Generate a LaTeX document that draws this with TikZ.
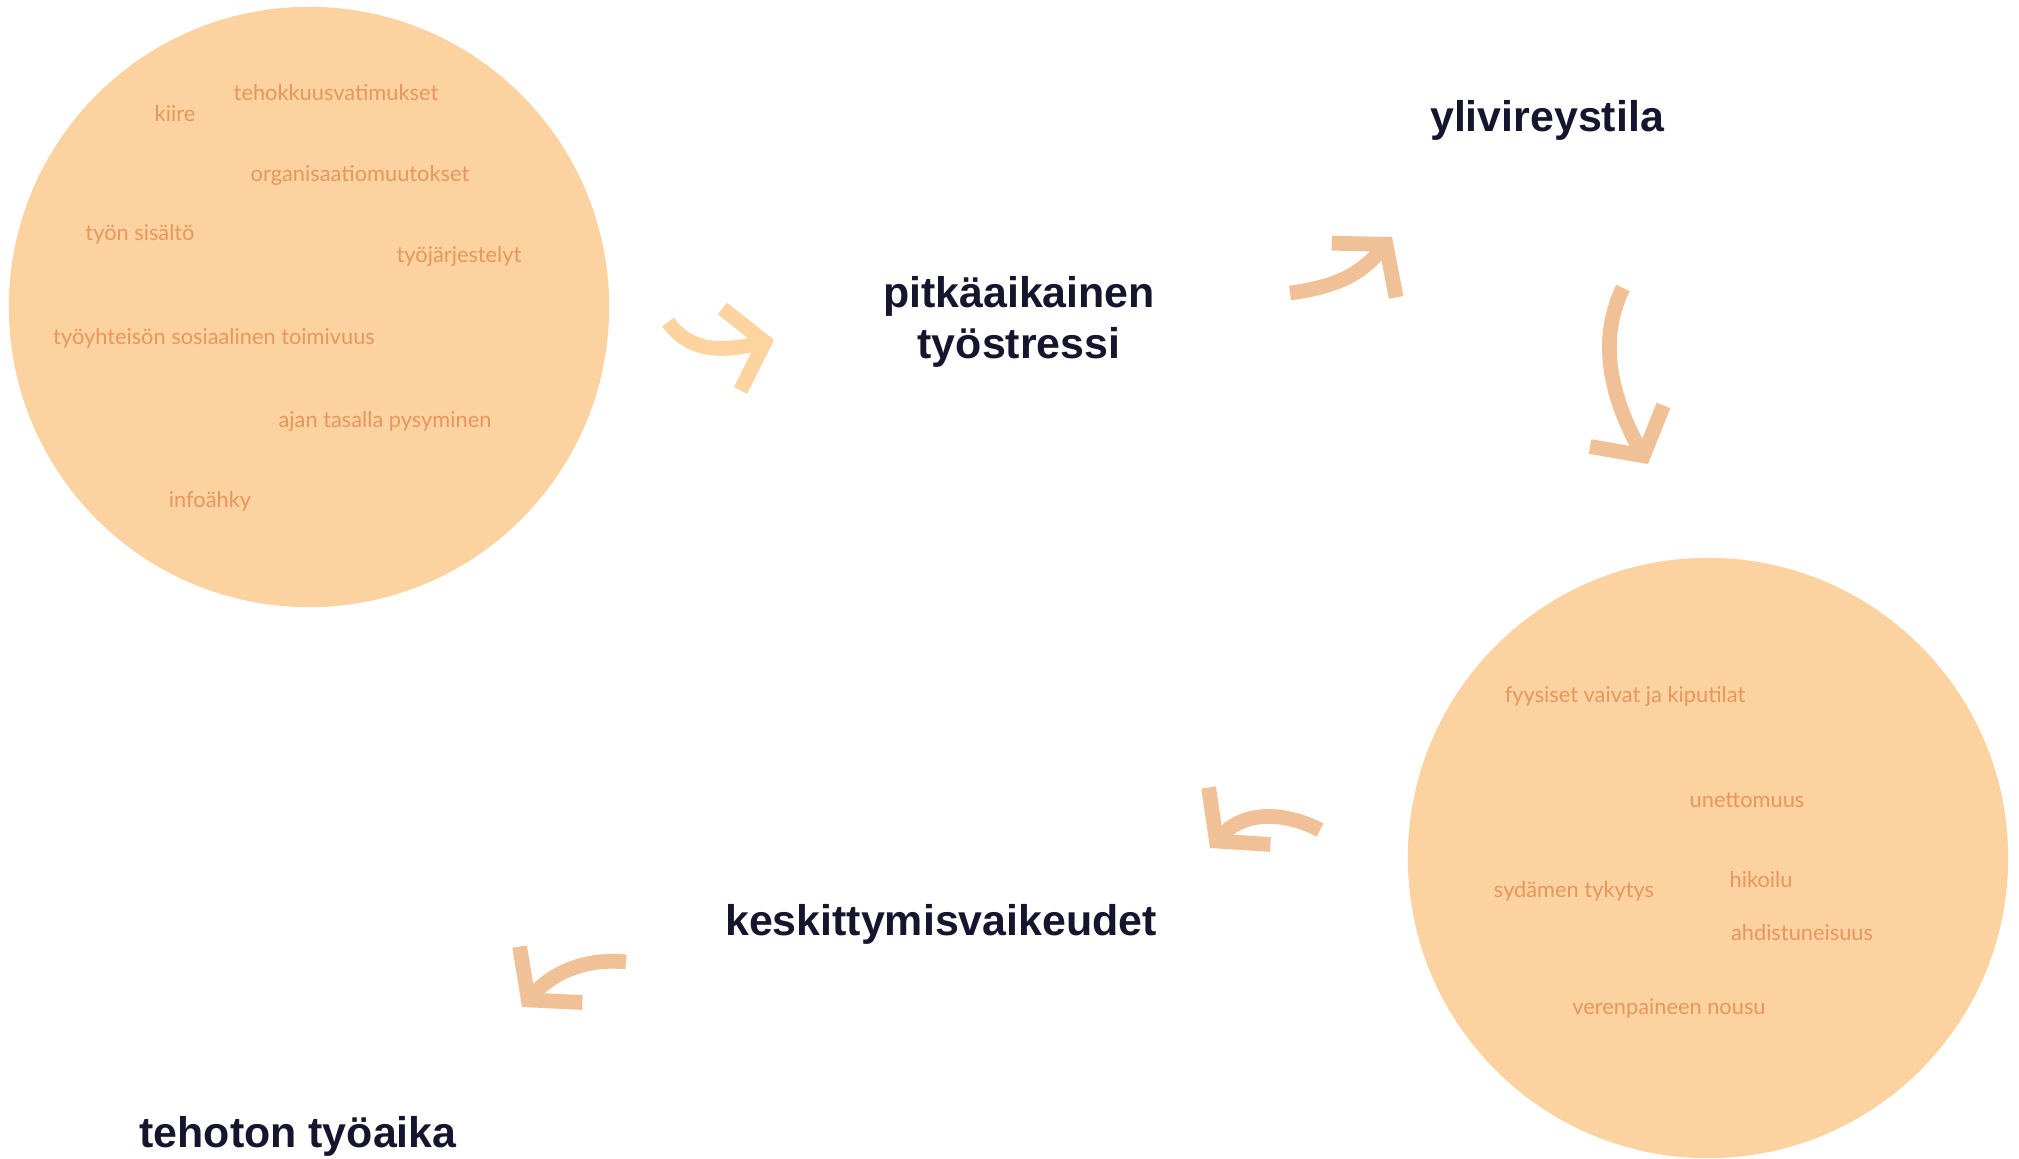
\documentclass[tikz,border=0pt]{standalone}
\usepackage{fontspec}
\setmainfont{Liberation Sans}
\newfontfamily\cuefont{Lato}
\usetikzlibrary{arrows.meta}
\definecolor{blob}{HTML}{FCD2A0}
\definecolor{blobtext}{HTML}{E8975C}
\definecolor{navy}{HTML}{15162E}
\definecolor{arrowlight}{HTML}{FDD49F}
\definecolor{arrowdark}{HTML}{F0C196}

\begin{document}
\begin{tikzpicture}[x=0.01cm,y=-0.01cm,
        blobnode/.style={circle,fill=blob,minimum size=6cm,inner sep=0pt},
        cue/.style={text=blobtext,font=\cuefont\fontsize{6.2}{7}\selectfont,inner sep=0pt,anchor=base},
        heading/.style={text=navy,font=\bfseries\fontsize{12.2}{14.6}\selectfont,align=center,inner sep=0pt},
        brush/.style={line width=4.2pt,arrowdark,-{Straight Barb[length=3.4mm,width=8.4mm]}}]
        \useasboundingbox (0,0) rectangle (2019,1158);
        % circles
        \node[blobnode] (causes) at (309,307) {};
        \node[blobnode] (symptoms) at (1708,858) {};
        % causes
        \node[cue] (hurry) at (175,122) {kiire};
        \node[cue] (efficiency) at (336,101) {tehokkuusvatimukset};
        \node[cue] (reorg) at (360,182) {organisaatiomuutokset};
        \node[cue] (content) at (140,241) {työn sisältö};
        \node[cue] (arrange) at (459,263) {työjärjestelyt};
        \node[cue] (social) at (214,344) {työyhteisön sosiaalinen toimivuus};
        \node[cue] (uptodate) at (385,427) {ajan tasalla pysyminen};
        \node[cue] (overload) at (210,507) {infoähky};
        % symptoms
        \node[cue] (aches) at (1625,702) {fyysiset vaivat ja kiputilat};
        \node[cue] (insomnia) at (1747,807) {unettomuus};
        \node[cue] (palpit) at (1574,897) {sydämen tykytys};
        \node[cue] (sweat) at (1761,887) {hikoilu};
        \node[cue] (anxiety) at (1802,940) {ahdistuneisuus};
        \node[cue] (pressure) at (1669,1014) {verenpaineen nousu};
        % stages
        \node[heading] (stress) at (1019,322) {pitkäaikainen\\työstressi};
        \node[heading,anchor=base] (arousal) at (1547,132) {ylivireystila};
        \node[heading,anchor=base] (focus) at (941,935) {keskittymisvaikeudet};
        \node[heading,anchor=base] (waste) at (298,1147) {tehoton työaika};
        % arrow ends
        \coordinate (a1s) at (668,322);
        \coordinate (a1e) at (774,340);
        \coordinate (a2s) at (1290,293);
        \coordinate (a2e) at (1392,237);
        \coordinate (a3s) at (1623,288);
        \coordinate (a3e) at (1648,464);
        \coordinate (a4s) at (1320,830);
        \coordinate (a4e) at (1210,848);
        \coordinate (a5s) at (626,962);
        \coordinate (a5e) at (522,1007);
        \draw[brush,arrowlight] (a1s) .. controls (690,352) and (720,352) .. (a1e);
        \draw[brush] (a2s) .. controls (1335,287) and (1360,275) .. (a2e);
        \draw[brush] (a3s) .. controls (1595,345) and (1615,405) .. (a3e);
        \draw[brush] (a4s) .. controls (1285,812) and (1245,810) .. (a4e);
        \draw[brush] (a5s) .. controls (590,958) and (555,970) .. (a5e);
\end{tikzpicture}
\end{document}
